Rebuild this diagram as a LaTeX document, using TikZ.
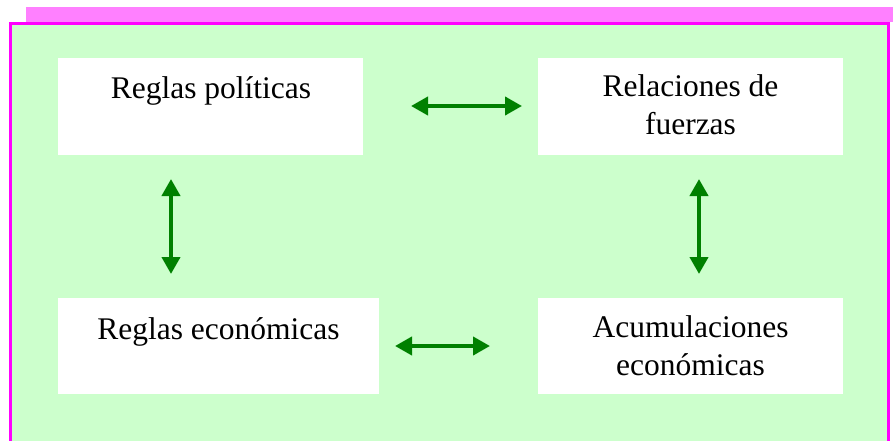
\documentclass[tikz,border=0pt]{standalone}
\usepackage{fontspec}
\setmainfont{Liberation Serif}
\usetikzlibrary{arrows.meta}
\definecolor{barpink}{HTML}{FF80FF}
\definecolor{framemag}{HTML}{FF00FF}
\definecolor{panelgreen}{HTML}{CCFFCC}
\definecolor{arrowgreen}{HTML}{008000}
\tikzset{
  whitebox/.style={draw=none, fill=white, rectangle, inner sep=0pt},
  lbl/.style={font=\fontsize{31.5}{38}\selectfont, align=center, inner sep=0pt, anchor=base},
  linkarrow/.style={draw=arrowgreen, line width=4pt,
    {Triangle[length=17pt,width=18pt]}-{Triangle[length=17pt,width=18pt]}}
}
\begin{document}
\begin{tikzpicture}[x=1pt,y=-1pt]
\useasboundingbox (0,0) rectangle (893,441);
\begin{scope}
\clip (0,0) rectangle (893,441);
\fill[barpink] (26,7) rectangle (893,22);
\draw[framemag, fill=panelgreen, line width=3.2pt] (10.5,23.5) rectangle (888.5,460);
\end{scope}
% boxes
\node[whitebox, minimum width=305pt, minimum height=97pt] (tl) at (210.5,106.5) {};
\node[whitebox, minimum width=305pt, minimum height=97pt] (tr) at (690.5,106.5) {};
\node[whitebox, minimum width=321pt, minimum height=96pt] (bl) at (218.5,346) {};
\node[whitebox, minimum width=305pt, minimum height=96pt] (br) at (690.5,346) {};
% labels (base anchor = baseline of last line)
\node[lbl] (tltxt) at (211,99) {Reglas políticas};
\node[lbl] (trtxt) at (690.5,134) {Relaciones de\\fuerzas};
\node[lbl] (bltxt) at (218.5,339) {Reglas económicas};
\node[lbl] (brtxt) at (690.5,375) {Acumulaciones\\económicas};
% arrow ends
\coordinate (h1a) at (411,106);
\coordinate (h1b) at (522,106);
\coordinate (h2a) at (395,346);
\coordinate (h2b) at (490,346);
\coordinate (v1a) at (171,179);
\coordinate (v1b) at (171,274);
\coordinate (v2a) at (699,179);
\coordinate (v2b) at (699,274);
\draw[linkarrow] (h1a) -- (h1b);
\draw[linkarrow] (h2a) -- (h2b);
\draw[linkarrow] (v1a) -- (v1b);
\draw[linkarrow] (v2a) -- (v2b);
\end{tikzpicture}
\end{document}
